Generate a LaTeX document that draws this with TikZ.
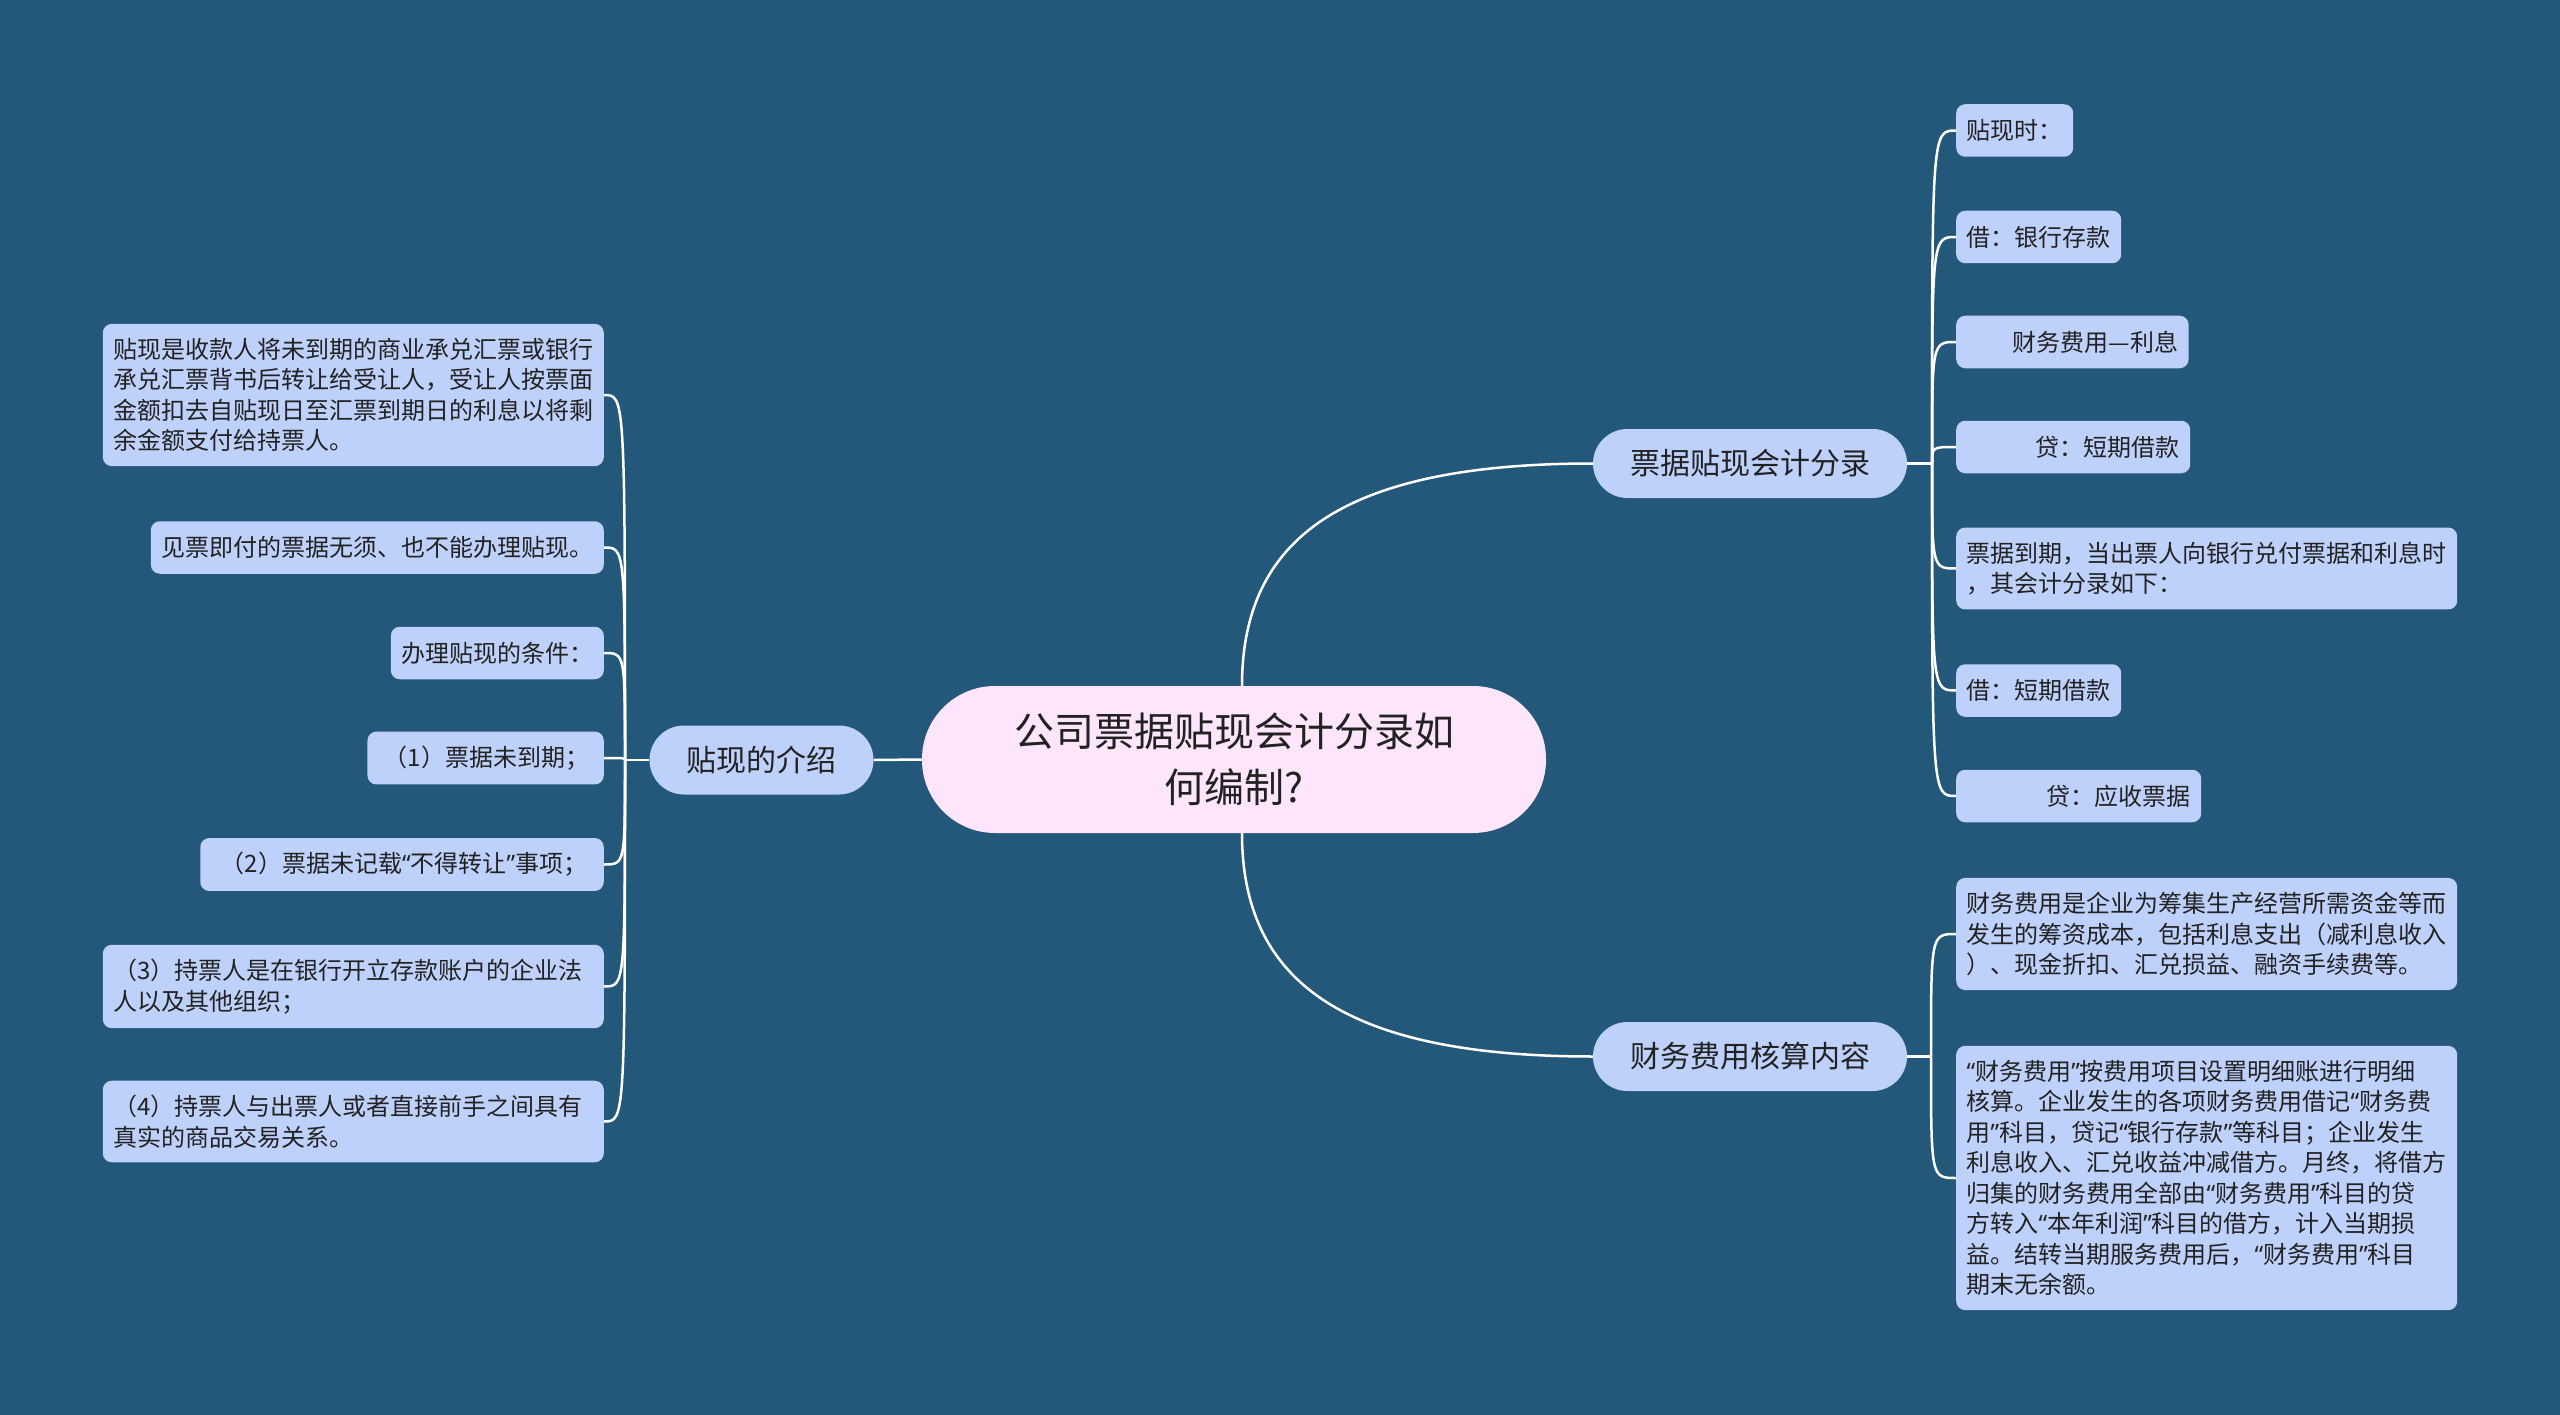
\documentclass[tikz,border=0pt]{standalone}
\usepackage{fontspec}
\newfontfamily\cjk{Noto Sans CJK SC}
\newfontfamily\latq{Noto Sans}
\newcommand{\qo}{{\latq “}}
\newcommand{\qc}{{\latq ”}}
\definecolor{bgc}{HTML}{23587B}
\definecolor{leaffill}{HTML}{BED1FA}
\definecolor{rootfill}{HTML}{FDE5FB}
\definecolor{txt}{HTML}{222222}
\begin{document}
\begin{tikzpicture}[x=1pt,y=-1pt,
  leaf/.style={fill=leaffill, rounded corners=9pt, inner xsep=10.5pt, inner ysep=14.25pt,
    minimum height=52.5pt, font=\cjk\fontsize{24pt}{30.5pt}\selectfont, text=txt, align=left},
  leafw/.style={leaf, text width=480pt},
  branch/.style={fill=leaffill, rounded corners=34.5pt, inner xsep=37pt, minimum height=69pt,
    font=\cjk\fontsize{30pt}{36pt}\selectfont, text=txt},
  rootbox/.style={fill=rootfill, rounded corners=73pt, minimum width=624pt, minimum height=147pt,
    font=\cjk\fontsize{40pt}{56pt}\selectfont, text=txt, align=center},
  link/.style={draw=white, line width=2.5pt}
]
\fill[bgc] (0,0) rectangle (2560,1415);
\useasboundingbox (0,0) rectangle (2560,1415);

% root and branches
\node[rootbox] (root) at (1234,759.5) {公司票据贴现会计分录如\\何编制?};
\node[branch] (b0) at (761.5,760) {贴现的介绍};
\node[branch] (b1) at (1750,463.5) {票据贴现会计分录};
\node[branch] (b2) at (1750,1056.5) {财务费用核算内容};

% left leaves
\node[leafw, anchor=east] (l1) at (604,395) {贴现是收款人将未到期的商业承兑汇票或银行\\承兑汇票背书后转让给受让人，受让人按票面\\金额扣去自贴现日至汇票到期日的利息以将剩\\余金额支付给持票人。};
\node[leaf, anchor=east] (l2) at (604,547.5) {见票即付的票据无须、也不能办理贴现。};
\node[leaf, anchor=east] (l3) at (604,653) {办理贴现的条件：};
\node[leaf, anchor=east] (l4) at (604,758) {\hspace*{6pt}（1）票据未到期；\hspace*{4pt}};
\node[leaf, anchor=east] (l5) at (604,864.5) {\hspace*{10pt}（2）票据未记载\qo 不得转让\qc 事项；\hspace*{6pt}};
\node[leafw, anchor=east] (l6) at (604,986.5) {（3）持票人是在银行开立存款账户的企业法\\人以及其他组织；};
\node[leafw, anchor=east] (l7) at (604,1121.5) {（4）持票人与出票人或者直接前手之间具有\\真实的商品交易关系。};

% right leaves (upper)
\node[leaf, anchor=west] (r1) at (1956,130.5) {贴现时：};
\node[leaf, anchor=west] (r2) at (1956,237) {借：银行存款};
\node[leaf, anchor=west] (r3) at (1956,342) {\hspace*{46pt}财务费用—利息};
\node[leaf, anchor=west] (r4) at (1956,447) {\hspace*{69pt}贷：短期借款};
\node[leafw, anchor=west] (r5) at (1956,568.5) {票据到期，当出票人向银行兑付票据和利息时\\，其会计分录如下：};
\node[leaf, anchor=west] (r6) at (1956,690.5) {借：短期借款};
\node[leaf, anchor=west] (r7) at (1956,796) {\hspace*{80pt}贷：应收票据};

% right leaves (lower)
\node[leafw, anchor=west] (r8) at (1956,934) {财务费用是企业为筹集生产经营所需资金等而\\发生的筹资成本，包括利息支出（减利息收入\\）、现金折扣、汇兑损益、融资手续费等。};
\node[leafw, anchor=west] (r9) at (1956,1178) {\qo 财务费用\qc 按费用项目设置明细账进行明细\\核算。企业发生的各项财务费用借记\qo 财务费\\用\qc 科目，贷记\qo 银行存款\qc 等科目；企业发生\\利息收入、汇兑收益冲减借方。月终，将借方\\归集的财务费用全部由\qo 财务费用\qc 科目的贷\\方转入\qo 本年利润\qc 科目的借方，计入当期损\\益。结转当期服务费用后，\qo 财务费用\qc 科目\\期末无余额。};

% junctions
\coordinate (lj) at (625,760);
\coordinate (rj1) at (1932,463.5);
\coordinate (rj2) at (1931,1056.5);

% root connectors
\draw[link] (root.west) -- (b0.east);
\draw[link] ([xshift=8pt]root.north) .. controls (1242,540) and (1340,463.5) .. (b1.west);
\draw[link] ([xshift=8pt]root.south) .. controls (1242,979) and (1340,1056.5) .. (b2.west);

% left branch connectors
\draw[link] (b0.west) -- (lj);
\foreach \n in {l1,l2,l3,l4,l5,l6,l7}
  \draw[link] (lj) .. controls (lj |- \n.east) .. (\n.east);

% right branch connectors
\draw[link] (b1.east) -- (rj1);
\foreach \n in {r1,r2,r3,r4,r5,r6,r7}
  \draw[link] (rj1) .. controls (rj1 |- \n.west) .. (\n.west);
\draw[link] (b2.east) -- (rj2);
\foreach \n in {r8,r9}
  \draw[link] (rj2) .. controls (rj2 |- \n.west) .. (\n.west);
\end{tikzpicture}
\end{document}
